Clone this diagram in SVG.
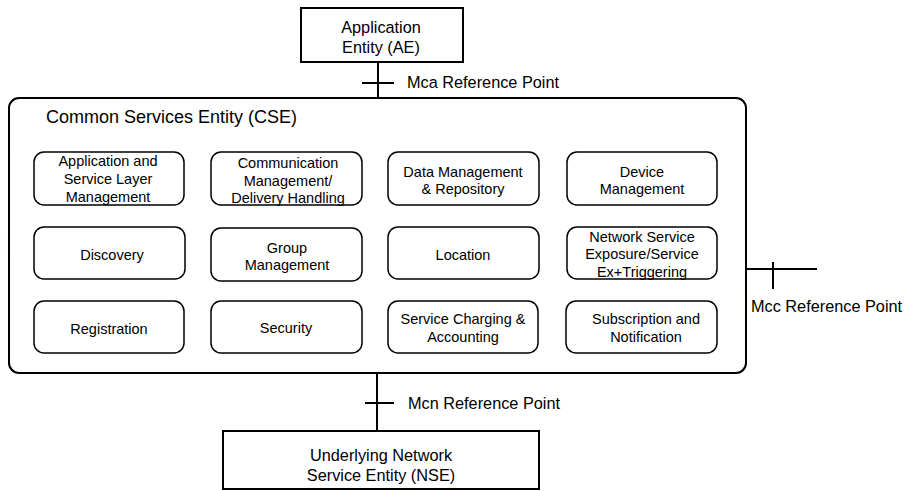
<svg xmlns="http://www.w3.org/2000/svg" width="906" height="491" viewBox="0 0 906 491">
<style>
text{font-family:"Liberation Sans",Arial,sans-serif;fill:#000}
.b{font-size:16.3px}
.s{font-size:14.5px;text-anchor:middle}
.c{text-anchor:middle}
.fn{fill:#fff;stroke:#000;stroke-width:1.5}
.ln{stroke:#000;stroke-width:2;fill:none}
</style>
<rect width="906" height="491" fill="#fff"/>
<g id="connectors">
<line class="ln" x1="378" y1="62" x2="378" y2="98"/>
<line class="ln" x1="362" y1="83" x2="394" y2="83"/>
<line class="ln" x1="377" y1="373" x2="377" y2="431"/>
<line class="ln" x1="365" y1="403" x2="394" y2="403"/>
<line class="ln" x1="746" y1="269" x2="817" y2="269"/>
<line class="ln" x1="773" y1="262" x2="773" y2="289"/>
</g>
<g id="labels">
<text class="b" x="407" y="88">Mca Reference Point</text>
<text class="b" x="751" y="312">Mcc Reference Point</text>
<text class="b" x="408" y="409">Mcn Reference Point</text>
</g>
<g id="ae">
<rect x="301" y="8" width="162" height="54" fill="#fff" stroke="#000" stroke-width="2"/>
<text class="b c" x="381" y="33">Application</text>
<text class="b c" x="381" y="53">Entity (AE)</text>
</g>
<g id="cse">
<rect x="9" y="98" width="737" height="275" rx="10" fill="#fff" stroke="#000" stroke-width="2"/>
<text x="46" y="123" style="font-size:18px">Common Services Entity (CSE)</text>
</g>
<g id="asl"><rect class="fn" x="34" y="152" width="150" height="53" rx="10"/>
<text class="s" x="108" y="166">Application and</text><text class="s" x="108" y="184">Service Layer</text><text class="s" x="108" y="202">Management</text></g>
<g id="cmdh"><rect class="fn" x="211" y="152" width="151" height="53" rx="10"/>
<text class="s" x="288" y="168">Communication</text><text class="s" x="288" y="186">Management/</text><text class="s" x="288" y="203">Delivery Handling</text></g>
<g id="dmr"><rect class="fn" x="388" y="152" width="151" height="53" rx="10"/>
<text class="s" x="463" y="177">Data Management</text><text class="s" x="463" y="194">&amp; Repository</text></g>
<g id="dm"><rect class="fn" x="567" y="152" width="150" height="53" rx="10"/>
<text class="s" x="642" y="177">Device</text><text class="s" x="642" y="194">Management</text></g>
<g id="dis"><rect class="fn" x="34" y="227" width="151" height="52" rx="10"/>
<text class="s" x="112" y="260">Discovery</text></g>
<g id="gm"><rect class="fn" x="211" y="228" width="151" height="53" rx="10"/>
<text class="s" x="287" y="253">Group</text><text class="s" x="287" y="270">Management</text></g>
<g id="loc"><rect class="fn" x="388" y="227" width="151" height="52" rx="10"/>
<text class="s" x="463" y="260">Location</text></g>
<g id="nse2"><rect class="fn" x="567" y="227" width="150" height="52" rx="10"/>
<text class="s" x="642" y="242">Network Service</text><text class="s" x="642" y="259">Exposure/Service</text><text class="s" x="642" y="277">Ex+Triggering</text></g>
<g id="reg"><rect class="fn" x="34" y="301" width="150" height="52" rx="10"/>
<text class="s" x="109" y="334">Registration</text></g>
<g id="sec"><rect class="fn" x="211" y="301" width="151" height="52" rx="10"/>
<text class="s" x="286" y="333">Security</text></g>
<g id="sca"><rect class="fn" x="388" y="301" width="150" height="52" rx="10"/>
<text class="s" x="463" y="324">Service Charging &amp;</text><text class="s" x="463" y="342">Accounting</text></g>
<g id="sub"><rect class="fn" x="566" y="301" width="151" height="52" rx="10"/>
<text class="s" x="646" y="324">Subscription and</text><text class="s" x="646" y="342">Notification</text></g>
<g id="nse">
<rect x="223" y="431" width="316" height="58" fill="#fff" stroke="#000" stroke-width="2"/>
<text class="b c" x="381" y="461">Underlying Network</text>
<text class="b c" x="381" y="481">Service Entity (NSE)</text>
</g>
</svg>
